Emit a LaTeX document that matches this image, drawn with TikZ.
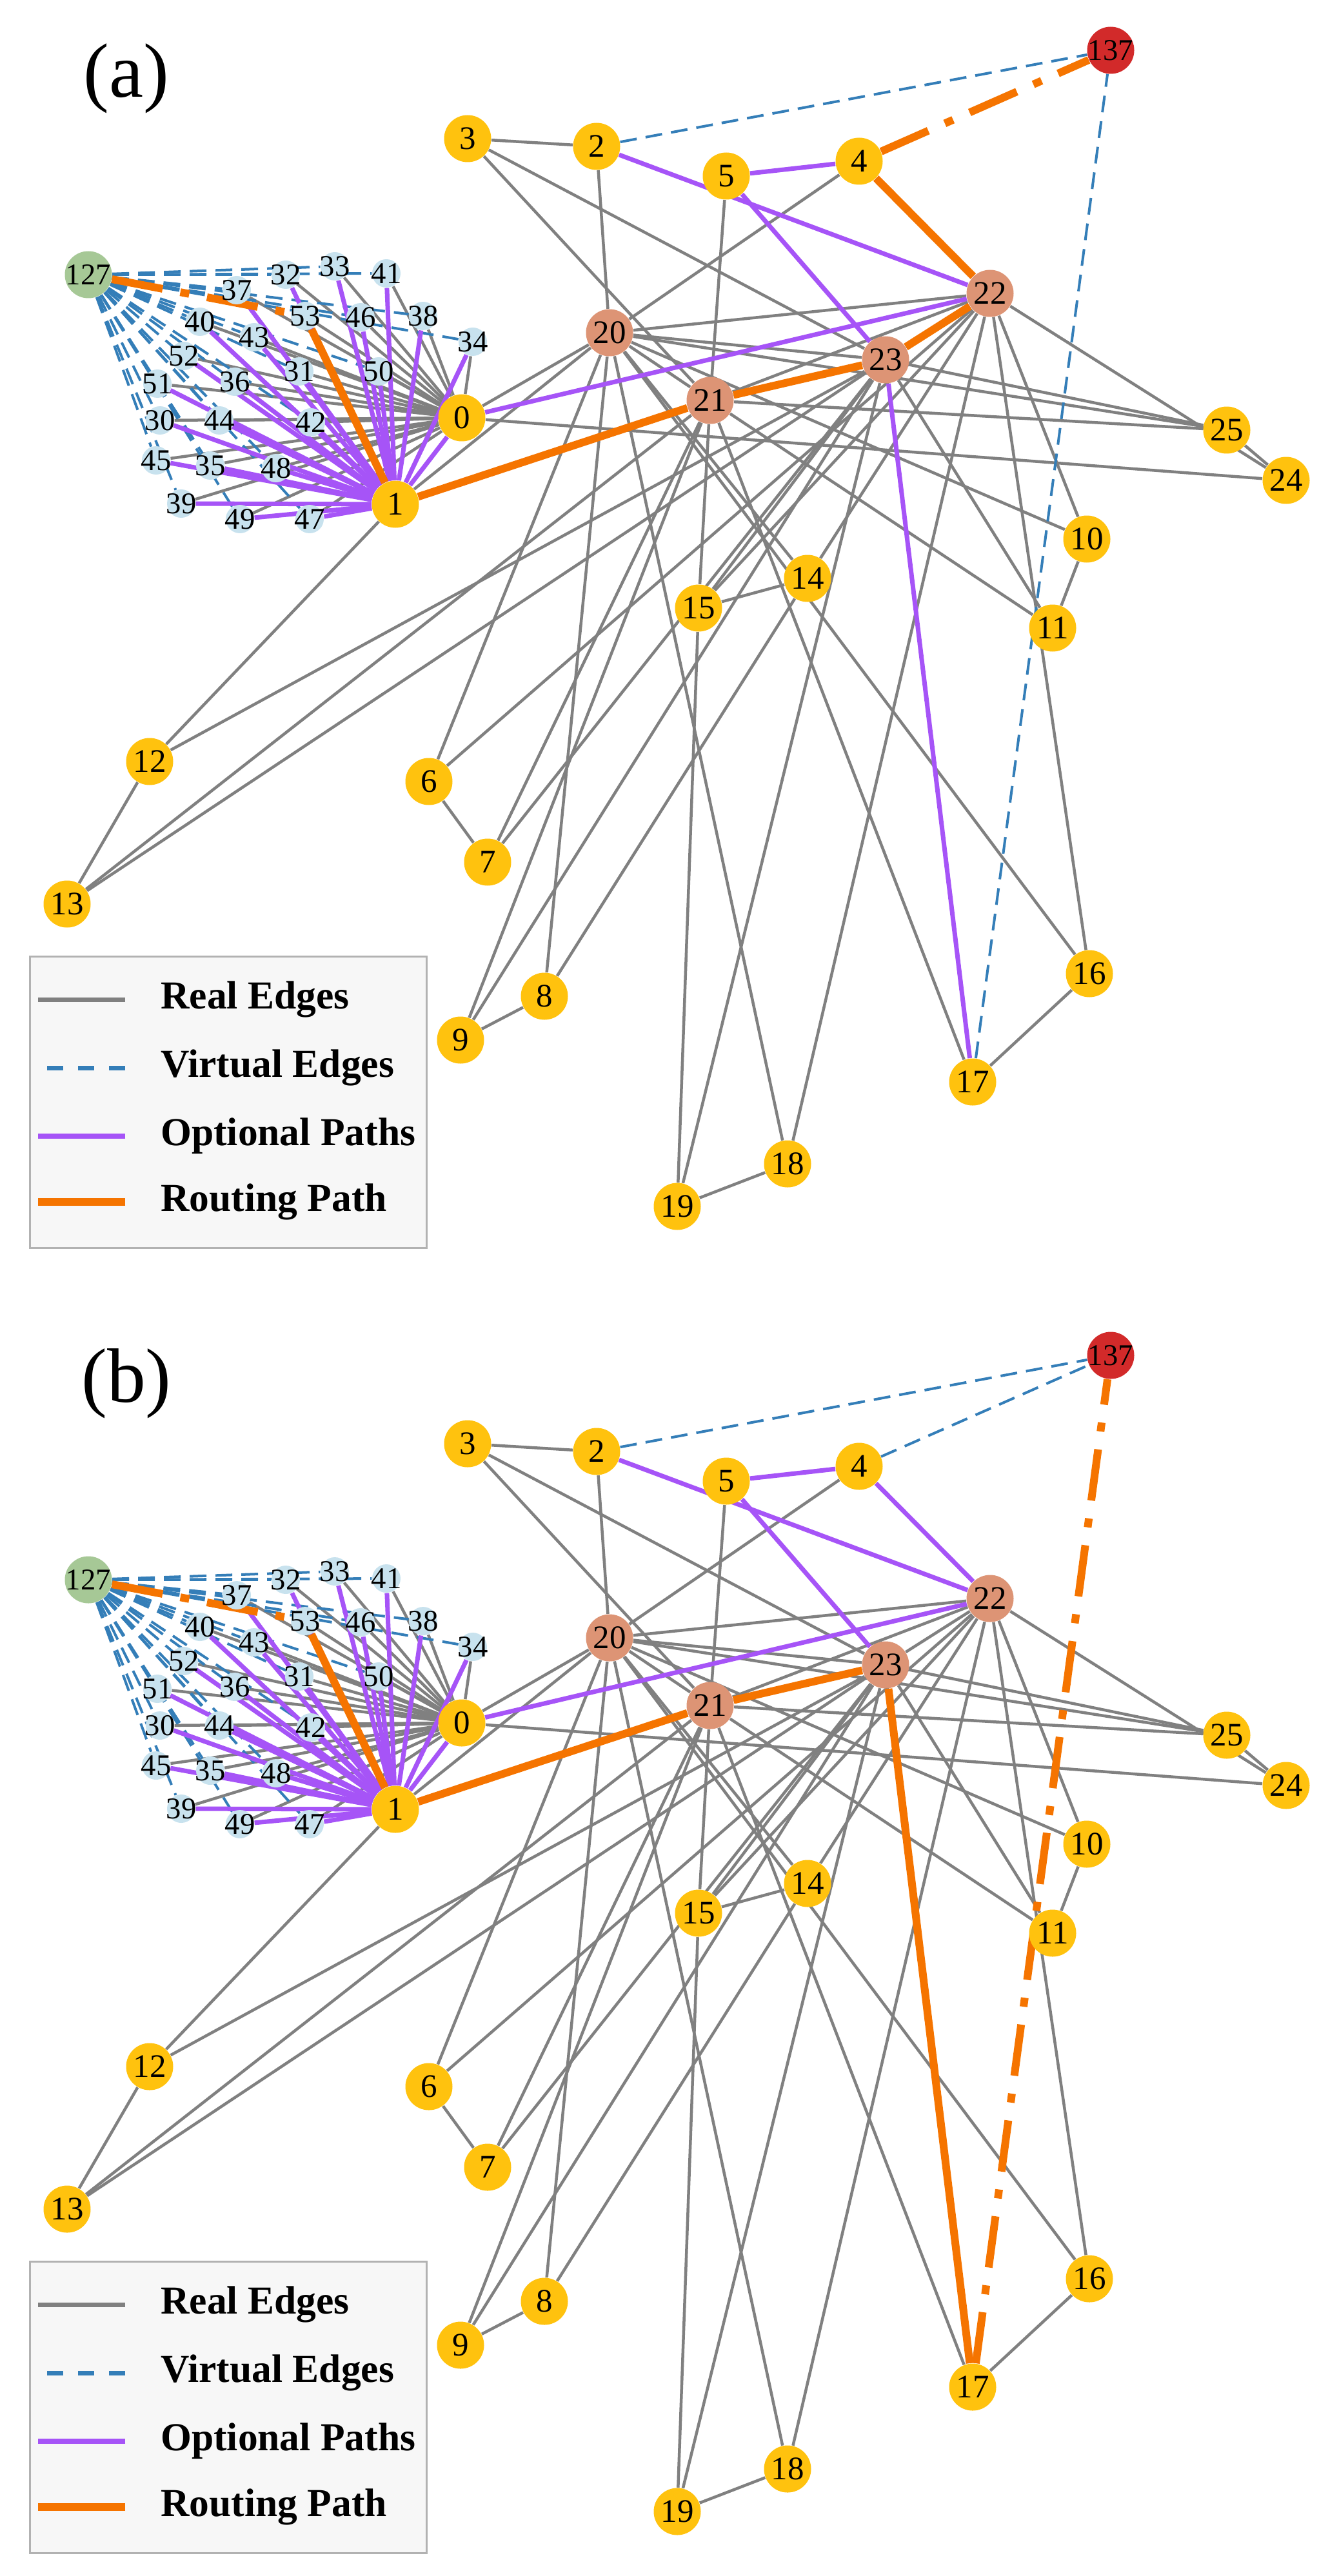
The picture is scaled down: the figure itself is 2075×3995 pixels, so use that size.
\documentclass[tikz,border=0pt]{standalone}
\usepackage{fontspec}
\setmainfont{Liberation Serif}

\definecolor{realgray}{RGB}{128,128,128}
\definecolor{virtblue}{RGB}{52,126,184}
\definecolor{optpurple}{RGB}{166,84,247}
\definecolor{routeorange}{RGB}{245,116,0}
\definecolor{nodeyellow}{RGB}{255,194,14}
\definecolor{hubsalmon}{RGB}{221,148,117}
\definecolor{satblue}{RGB}{200,226,238}
\definecolor{srcgreen}{RGB}{166,200,150}
\definecolor{dstred}{RGB}{210,42,42}

\pgfdeclarelayer{edges}
\pgfsetlayers{edges,main}

\tikzset{
  netnode/.style={circle, inner sep=0pt, minimum size=7.3mm, fill=nodeyellow,
    font=\fontsize{14.5}{14.5}\selectfont},
  hubnode/.style={netnode, fill=hubsalmon},
  srcnode/.style={netnode, fill=srcgreen, font=\fontsize{13.3}{13.3}\selectfont},
  dstnode/.style={netnode, fill=dstred, font=\fontsize{13.3}{13.3}\selectfont},
  satnode/.style={circle, inner sep=0pt, minimum size=4.4mm, fill=satblue,
    font=\fontsize{13.3}{13.3}\selectfont},
  real/.style={realgray, line width=0.45mm},
  virtual/.style={virtblue, line width=0.4mm, dash pattern=on 2.6mm off 1.4mm},
  optional/.style={optpurple, line width=0.7mm},
  routing/.style={routeorange, line width=1.2mm},
  routingvirt/.style={routing, dash pattern=on 8mm off 2.8mm on 1.4mm off 2.8mm},
  legendbox/.style={draw=black!30, fill=black!3, line width=0.3mm,
    minimum width=61.5mm, minimum height=45.2mm, inner sep=0pt},
  legendtext/.style={anchor=west, font=\fontsize{17.5}{17.5}\selectfont\bfseries},
  panellabel/.style={font=\fontsize{34}{34}\selectfont}
}

\begin{document}
\begin{tikzpicture}[x=0.1mm, y=-0.1mm]
  \useasboundingbox (0,0) rectangle (2075,3995);
  \foreach \p/\dy in {a/0, b/2024}
  {
    \begin{scope}[yshift={-\dy*0.1mm}]
      \node[panellabel] (\p label) at (196,122) {(\p)};
      % real network
      \foreach \n/\x/\y in {0/716/648, 1/613/782, 2/925/227, 3/725/215, 4/1332/250,
          5/1126/273, 6/665/1212, 7/756/1337, 8/844/1545, 9/714/1613, 10/1685/836,
          11/1632/974, 12/232/1181, 13/104/1402, 14/1252/897, 15/1083/943,
          16/1689/1510, 17/1508/1678, 18/1221/1805, 19/1050/1871, 24/1994/745,
          25/1902/667}
        \node[netnode] (\p\n) at (\x,\y) {\makebox[0pt]{\n}};
      \foreach \n/\x/\y in {20/945/516, 21/1101/621, 22/1535/455, 23/1373/558}
        \node[hubnode] (\p\n) at (\x,\y) {\makebox[0pt]{\n}};
      % satellites and the two virtual end points
      \foreach \n/\x/\y in {30/248/652, 31/464/576, 32/443/426, 33/519/413, 34/733/530,
          35/326/722, 36/364/592, 37/367/450, 38/656/490, 39/281/781, 40/310/499,
          41/599/424, 42/482/655, 43/394/523, 44/340/652, 45/242/714, 46/559/492,
          47/480/805, 48/428/726, 49/372/805, 50/587/576, 51/244/595, 52/285/552,
          53/473/490}
        \node[satnode] (\p\n) at (\x,\y) {\makebox[0pt]{\n}};
      \node[srcnode] (\p127) at (137,426) {\makebox[0pt]{127}};
      \node[dstnode] (\p137) at (1722,78) {\makebox[0pt]{137}};

      \begin{pgfonlayer}{edges}
        \foreach \u/\v in {2/3, 2/20, 3/21, 3/23, 4/20, 5/21, 21/15, 15/19, 15/14,
            15/23, 15/22, 19/23, 19/18, 18/20, 18/22, 17/21, 17/16, 16/20, 16/22,
            10/11, 10/22, 10/20, 11/21, 11/23, 24/25, 22/24, 23/25, 21/25, 20/25,
            0/24, 6/7, 6/20, 6/22, 7/23, 7/21, 8/9, 8/20, 8/14, 14/22, 14/20,
            9/21, 9/23, 12/13, 12/1, 12/23, 13/21, 13/23, 0/20, 1/20, 20/21,
            20/22, 20/23, 21/22, 21/23, 22/23}
          \draw[real] (\p\u) -- (\p\v);
        \foreach \s in {30,...,53}
          \draw[real] (\p\s) -- (\p0);
        \foreach \s in {30,...,52}
          \draw[virtual] (\p127) -- (\p\s);
        \foreach \s in {30,...,52}
          \draw[optional] (\p\s) -- (\p1);
        \draw[optional] (\p0) -- (\p1);
        \draw[optional] (\p0) -- (\p22);
        \draw[optional] (\p2) -- (\p22);
        \draw[optional] (\p5) -- (\p4);
        \draw[optional] (\p5) -- (\p23);
        \draw[virtual] (\p2) -- (\p137);
        \draw[routingvirt] (\p127) -- (\p53);
        \draw[routing] (\p53) -- (\p1);
        \draw[routing] (\p1) -- (\p21);
        \draw[routing] (\p21) -- (\p23);
      \end{pgfonlayer}

      % legend
      \node[legendbox] (\p box) at (354,1709) {};
      \node[legendtext] (\p real) at (237,1550) {Real Edges};
      \node[legendtext] (\p virt) at (237,1656) {Virtual Edges};
      \node[legendtext] (\p opt) at (237,1762) {Optional Paths};
      \node[legendtext] (\p route) at (237,1864) {Routing Path};
      \draw[realgray, line width=0.7mm] ([xshift=-4.3mm]\p real.west) -- ++(-13.5mm,0);
      \draw[virtblue, line width=0.7mm, dash pattern=on 2.5mm off 2.3mm]
        ([xshift=-4.3mm]\p virt.west) -- ++(-13.5mm,0);
      \draw[optpurple, line width=0.8mm] ([xshift=-4.3mm]\p opt.west) -- ++(-13.5mm,0);
      \draw[routeorange, line width=1.2mm] ([xshift=-4.3mm]\p route.west) -- ++(-13.5mm,0);
    \end{scope}
  }

  \begin{pgfonlayer}{edges}
    % (a) route ends through 22 and 4
    \draw[virtual] (a17) -- (a137);
    \draw[optional] (a23) -- (a17);
    \draw[routing] (a23) -- (a22);
    \draw[routing] (a22) -- (a4);
    \draw[routingvirt] (a4) -- (a137);
    % (b) route ends through 17
    \draw[virtual] (b4) -- (b137);
    \draw[optional] (b4) -- (b22);
    \draw[routing] (b23) -- (b17);
    \draw[routingvirt] (b17) -- (b137);
  \end{pgfonlayer}
\end{tikzpicture}
\end{document}
